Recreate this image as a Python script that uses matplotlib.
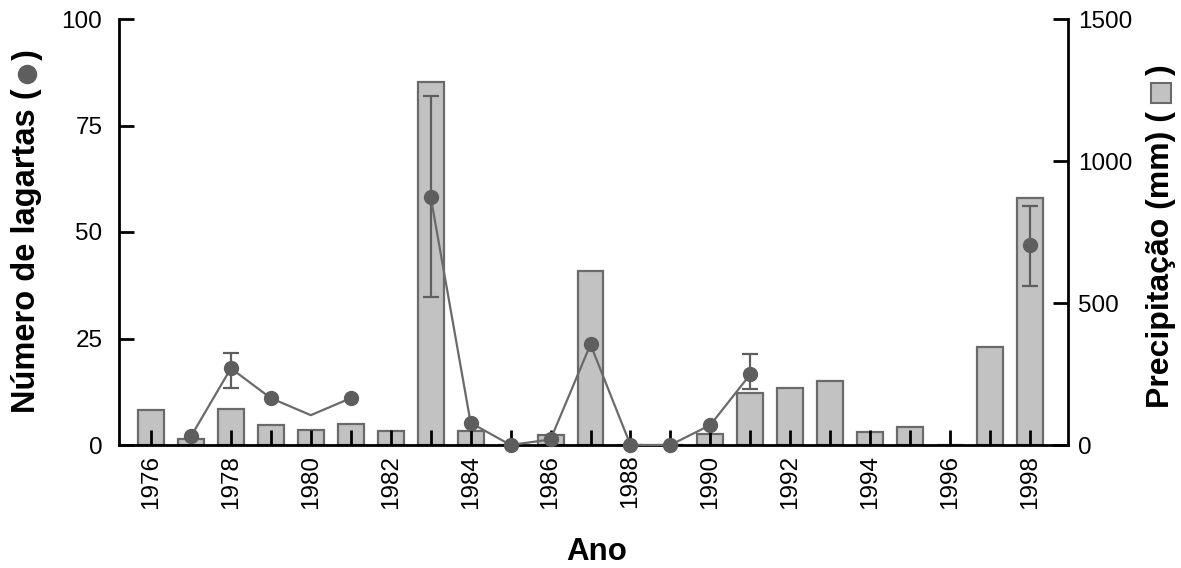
import numpy as np
import matplotlib
matplotlib.use('Agg')
import matplotlib.pyplot as plt
from matplotlib.lines import Line2D

plt.rcParams['font.family'] = ['Liberation Sans', 'DejaVu Sans']

# dados
years = list(range(1976, 1999))
rain = [123, 20, 126, 70, 53, 74, 50, 1279, 50, 0, 35, 611, 0, 0,
        39, 182, 199, 225, 47, 64, 0, 345, 869]
nan = np.nan
lizards = [nan, 2, 18, 11, 7, 11, nan, 58.3, 5.2, 0, 1.3, 23.6, 0, 0,
           4.7, 16.6, nan, nan, nan, nan, nan, nan, 47]
no_marker_years = [1980]
err_years = [1978, 1983, 1991, 1998]
err_low = [13.4, 34.7, 13.1, 37.4]
err_high = [21.7, 82, 21.4, 56.2]

bar_fill = '#c2c2c2'
bar_edge = '#6a6a6a'
pt_color = '#5e5e5e'

W, H = 1181, 568
fig = plt.figure(figsize=(W / 100, H / 100), dpi=100)
ax = fig.add_axes([119 / W, 1 - 445 / H, (1068 - 119) / W, (445 - 19) / H])
ax2 = ax.twinx()

# barras de precipitacao no eixo direito
ax2.bar(years, rain, width=0.65, color=bar_fill, edgecolor=bar_edge, linewidth=1.6)
ax2.set_ylim(0, 1500)
ax2.set_yticks([0, 500, 1000, 1500])

# lagartas por cima
ax.set_zorder(ax2.get_zorder() + 1)
ax.patch.set_visible(False)
mark_idx = [i for i, y in enumerate(years) if y not in no_marker_years]
err_mid = [lizards[years.index(y)] for y in err_years]
lo = [m - l for m, l in zip(err_mid, err_low)]
hi = [h - m for m, h in zip(err_mid, err_high)]
ax.errorbar(err_years, err_mid, yerr=[lo, hi],
            fmt='none', ecolor=pt_color, elinewidth=1.6, capsize=6, capthick=1.6, zorder=2)
ax.plot(years, lizards, color='#6a6a6a', linewidth=1.6, marker='o', markersize=10,
        markerfacecolor=pt_color, markeredgecolor=pt_color, markevery=mark_idx,
        clip_on=False, zorder=3)

ax.set_ylim(0, 100)
ax.set_yticks([0, 25, 50, 75, 100])
ax.set_xlim(1975.2, 1998.95)
ax.set_xticks(years)
ax.set_xticklabels([str(y) if y % 2 == 0 else '' for y in years], rotation=90)

for a in (ax, ax2):
    a.spines['top'].set_visible(False)
    for s in a.spines.values():
        s.set_linewidth(2)
ax.spines['right'].set_visible(False)
ax2.spines['left'].set_visible(False)
ax2.spines['bottom'].set_visible(False)

ax.tick_params(axis='y', direction='in', length=11, width=2, labelsize=17.5, pad=12)
ax.tick_params(axis='x', direction='in', length=11, width=2, labelsize=17.5, pad=7)
ax2.tick_params(axis='y', direction='in', length=11, width=2, labelsize=17.5, pad=7)

fig.text(597 / W, 1 - 552 / H, 'Ano', ha='center', va='center',
         fontsize=22.5, fontweight='bold')


def label_with_symbol(x_px, bottom_px, prefix, size, sym_kw, sym_px, gap):
    # texto vertical, simbolo entre parenteses no fim
    t = fig.text(x_px / W, 1 - bottom_px / H, prefix, rotation=90, ha='center',
                 va='bottom', fontsize=size, fontweight='bold')
    fig.canvas.draw()
    top = t.get_window_extent().y1
    cy = top + gap + sym_px / 2
    fig.add_artist(Line2D([x_px / W], [cy / H], transform=fig.transFigure, **sym_kw))
    fig.text(x_px / W, (cy + sym_px / 2 + gap) / H, ')', rotation=90, ha='center',
             va='bottom', fontsize=size, fontweight='bold')


label_with_symbol(27, 413, 'Número de lagartas (', 23.5,
                  dict(marker='o', markersize=13, color=pt_color), 18, 5)
label_with_symbol(1161, 408, 'Precipitação (mm) (', 23,
                  dict(marker='s', markersize=14, markerfacecolor=bar_fill,
                       markeredgecolor=bar_edge, markeredgewidth=1.5), 20, 8)

fig.savefig('out.png', dpi=100)
